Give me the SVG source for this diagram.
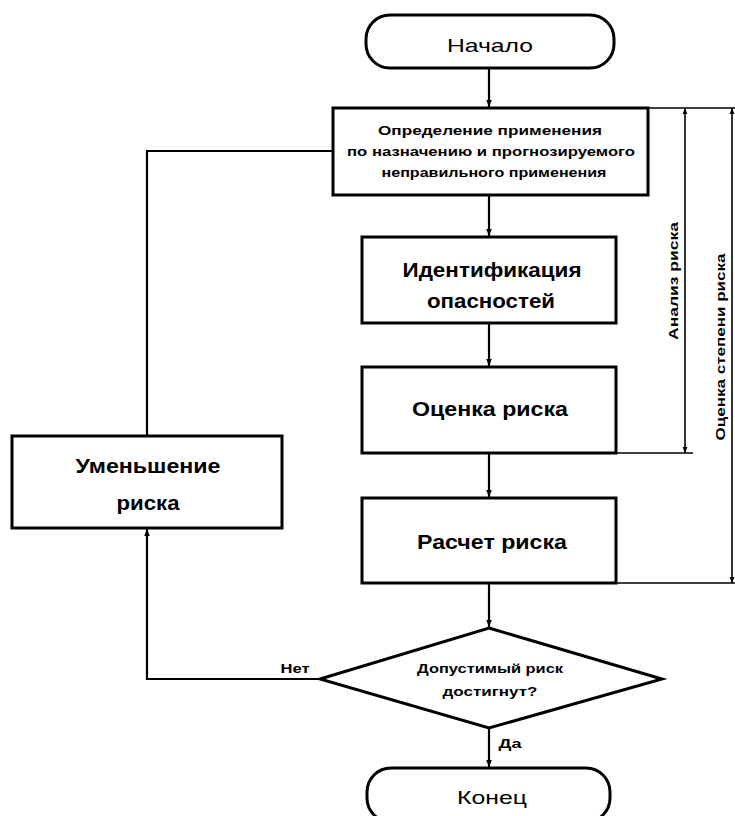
<svg xmlns="http://www.w3.org/2000/svg" width="735" height="816" viewBox="0 0 735 816">
<defs>
<marker id="ah" viewBox="0 0 10 10" refX="10" refY="5" markerWidth="7" markerHeight="7" markerUnits="userSpaceOnUse" orient="auto">
<path d="M0,1 L10,5 L0,9 Z" fill="#000"/>
</marker>
<marker id="ahs" viewBox="0 0 10 10" refX="10" refY="5" markerWidth="6" markerHeight="6" markerUnits="userSpaceOnUse" orient="auto-start-reverse">
<path d="M0,1 L10,5 L0,9 Z" fill="#000"/>
</marker>
</defs>
<style>
.box{fill:#fff;stroke:#000;stroke-width:3}
.ln{fill:none;stroke:#000;stroke-width:2.2}
.thin{fill:none;stroke:#000;stroke-width:1.6}
.t{font-family:"Liberation Sans",Arial,sans-serif;fill:#000;text-anchor:middle}
.big{font-size:20px;font-weight:bold}
.term{font-size:19px}
.sm{font-size:13px;font-weight:bold}
</style>
<rect width="735" height="816" fill="#fff"/>
<g id="connectors">
<line class="ln" x1="489" y1="68" x2="489" y2="107" marker-end="url(#ah)"/>
<line class="ln" x1="489" y1="195" x2="489" y2="236" marker-end="url(#ah)"/>
<line class="ln" x1="489" y1="323" x2="489" y2="366" marker-end="url(#ah)"/>
<line class="ln" x1="489" y1="453" x2="489" y2="497" marker-end="url(#ah)"/>
<line class="ln" x1="489" y1="583" x2="489" y2="627" marker-end="url(#ah)"/>
<line class="ln" x1="489" y1="728" x2="489" y2="767" marker-end="url(#ah)"/>
<polyline class="ln" points="320,679 147,679 147,529" marker-end="url(#ah)"/>
<polyline class="ln" points="147,436 147,151 333,151"/>
<line class="thin" x1="648" y1="108" x2="735" y2="108"/>
<line class="thin" x1="616" y1="453" x2="693" y2="453"/>
<line class="thin" x1="617" y1="583" x2="735" y2="583"/>
<line class="thin" x1="685" y1="108" x2="685" y2="453" marker-start="url(#ahs)" marker-end="url(#ahs)"/>
<line class="thin" x1="732" y1="108" x2="732" y2="583" marker-start="url(#ahs)" marker-end="url(#ahs)"/>
</g>
<g id="start">
<rect class="box" x="366" y="15" width="248" height="53" rx="24" ry="24"/>
<text class="t term" x="490" y="52" textLength="86" lengthAdjust="spacingAndGlyphs">Начало</text>
</g>
<g id="define">
<rect class="box" x="333" y="108" width="315" height="87"/>
<text class="t sm" x="490" y="135" textLength="224" lengthAdjust="spacingAndGlyphs">Определение применения</text>
<text class="t sm" x="491" y="156" textLength="288" lengthAdjust="spacingAndGlyphs">по назначению и прогнозируемого</text>
<text class="t sm" x="494" y="177" textLength="225" lengthAdjust="spacingAndGlyphs">неправильного применения</text>
</g>
<g id="identify">
<rect class="box" x="362" y="237" width="254" height="86"/>
<text class="t big" x="492" y="277" textLength="179" lengthAdjust="spacingAndGlyphs">Идентификация</text>
<text class="t big" x="491" y="308" textLength="128" lengthAdjust="spacingAndGlyphs">опасностей</text>
</g>
<g id="estimate">
<rect class="box" x="362" y="367" width="254" height="86"/>
<text class="t big" x="490" y="416" textLength="156" lengthAdjust="spacingAndGlyphs">Оценка риска</text>
</g>
<g id="calculate">
<rect class="box" x="362" y="498" width="254" height="85"/>
<text class="t big" x="492" y="549" textLength="150" lengthAdjust="spacingAndGlyphs">Расчет риска</text>
</g>
<g id="decision">
<polygon class="box" points="489,628 662,679 489,728 320,679"/>
<text class="t sm" x="490" y="673" textLength="146" lengthAdjust="spacingAndGlyphs">Допустимый риск</text>
<text class="t sm" x="490" y="696" textLength="95" lengthAdjust="spacingAndGlyphs">достигнут?</text>
</g>
<g id="reduce">
<rect class="box" x="12" y="436" width="270" height="92"/>
<text class="t big" x="148" y="473" textLength="145" lengthAdjust="spacingAndGlyphs">Уменьшение</text>
<text class="t big" x="148" y="510" textLength="63" lengthAdjust="spacingAndGlyphs">риска</text>
</g>
<g id="end">
<rect class="box" x="367" y="768" width="243" height="54" rx="24" ry="24"/>
<text class="t term" x="492" y="804" textLength="70" lengthAdjust="spacingAndGlyphs">Конец</text>
</g>
<g id="labels">
<text class="t sm" x="295" y="673" textLength="29" lengthAdjust="spacingAndGlyphs">Нет</text>
<text class="t sm" x="510" y="748" textLength="23" lengthAdjust="spacingAndGlyphs">Да</text>
<text class="t sm" transform="translate(678,281) rotate(-90)" x="0" y="0" textLength="118" lengthAdjust="spacingAndGlyphs">Анализ риска</text>
<text class="t sm" transform="translate(725,347) rotate(-90)" x="0" y="0" textLength="187" lengthAdjust="spacingAndGlyphs">Оценка степени риска</text>
</g>
</svg>
